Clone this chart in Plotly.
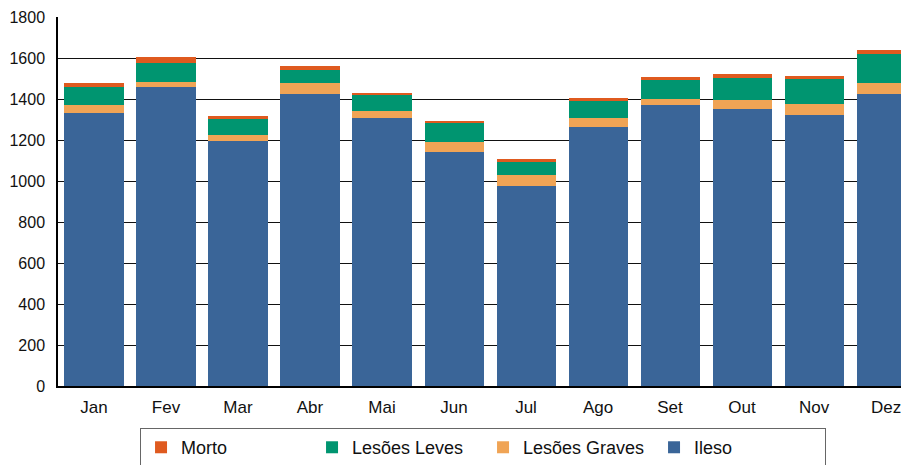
import plotly.graph_objects as go

months = ["Jan", "Fev", "Mar", "Abr", "Mai", "Jun", "Jul", "Ago", "Set", "Out", "Nov", "Dez"]
ileso = [1333, 1460, 1196, 1426, 1309, 1143, 977, 1265, 1372, 1353, 1323, 1426]
lesoes_graves = [39, 24, 30, 53, 34, 48, 53, 44, 29, 43, 54, 53]
lesoes_leves = [88, 93, 78, 64, 78, 90, 65, 83, 93, 108, 122, 142]
morto = [19, 29, 14, 19, 10, 13, 13, 14, 15, 19, 15, 20]
y_ticks = [0, 200, 400, 600, 800, 1000, 1200, 1400, 1600, 1800]

series = [
    ("Ileso", ileso, "#3A6598"),
    ("Lesões Graves", lesoes_graves, "#F0A455"),
    ("Lesões Leves", lesoes_leves, "#009570"),
    ("Morto", morto, "#DF5A1F"),
]

fig = go.Figure()
for name, vals, col in series:
    fig.add_trace(go.Bar(x=months, y=vals, name=name, marker=dict(color=col, line=dict(width=0))))

fig.update_layout(
    barmode="stack",
    bargap=0.18,
    width=909,
    height=480,
    margin=dict(l=50, r=0, t=9.3, b=102, autoexpand=False),
    paper_bgcolor="white",
    plot_bgcolor="white",
    font=dict(family="Liberation Sans, Arial, sans-serif", size=16, color="#111"),
    legend=dict(
        orientation="h",
        traceorder="reversed",
        x=0.0955, xanchor="left",
        y=-0.114, yanchor="top",
        bordercolor="#666",
        borderwidth=1,
        entrywidth=126,
        entrywidthmode="pixels",
        font=dict(size=18),
    ),
    xaxis=dict(
        range=[-0.5, 11.43],
        showline=True, linecolor="black", linewidth=2,
        ticks="outside", ticklen=5, tickcolor="rgba(0,0,0,0)",
        tickfont=dict(size=17),
        showgrid=False,
    ),
    yaxis=dict(
        range=[0, 1800],
        tickvals=y_ticks,
        showline=True, linecolor="black", linewidth=1.5,
        showgrid=True, gridcolor="#111", gridwidth=1,
        ticks="outside", ticklen=8, tickcolor="rgba(0,0,0,0)",
        zeroline=False,
    ),
)

fig.write_html("out.html")
